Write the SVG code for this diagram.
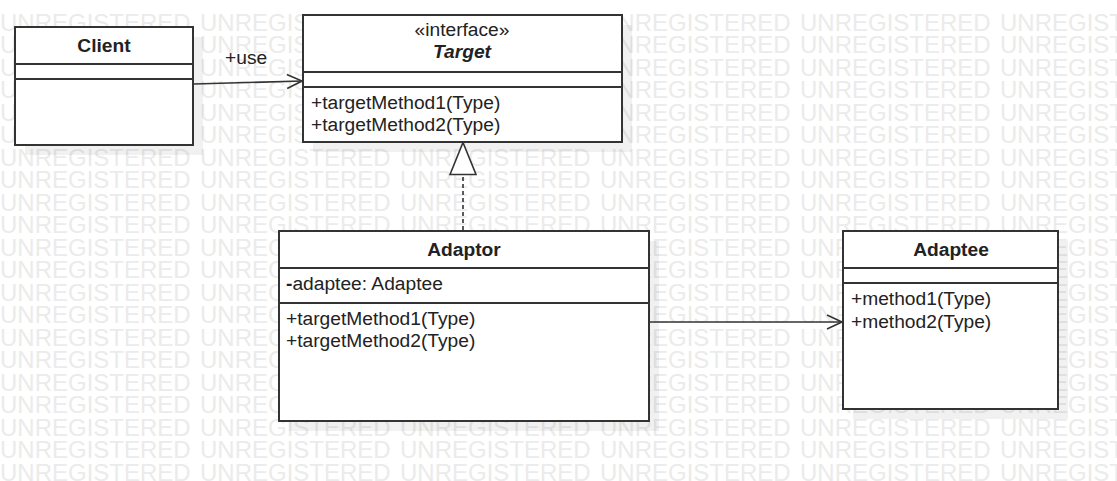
<svg xmlns="http://www.w3.org/2000/svg" xmlns:xlink="http://www.w3.org/1999/xlink" width="1117" height="481" viewBox="0 0 1117 481">
<style>
.wm{font-family:"Liberation Sans",Arial,sans-serif;font-size:24px;fill:#ebebeb}
.box{fill:#fff;stroke:#333;stroke-width:2}
.sh{fill:#000;fill-opacity:0.055;stroke:none}
.sep{stroke:#333;stroke-width:2}
.t{font-family:"Liberation Sans",Arial,sans-serif;font-size:19.2px;fill:#222}
.b{font-weight:bold}
.c{text-anchor:middle}
.ln{fill:none;stroke:#333;stroke-width:1.6}
</style>
<defs>
<g id="wmrow">
<text class="wm" x="0" y="0">UNREGISTERED</text>
<text class="wm" x="200" y="0">UNREGISTERED</text>
<text class="wm" x="400" y="0">UNREGISTERED</text>
<text class="wm" x="600" y="0">UNREGISTERED</text>
<text class="wm" x="800" y="0">UNREGISTERED</text>
<text class="wm" x="1000" y="0">UNREGISTERED</text>
</g>
<marker id="open" viewBox="-17 -9 19 18" refX="0" refY="0" markerWidth="19" markerHeight="18" markerUnits="userSpaceOnUse" orient="auto">
<path d="M-15,-7 L0,0 L-15,7" fill="none" stroke="#333" stroke-width="1.6"/>
</marker>
<marker id="tri" viewBox="-34 -15 36 30" refX="0" refY="0" markerWidth="36" markerHeight="30" markerUnits="userSpaceOnUse" orient="auto">
<path d="M-32,-13 L0,0 L-32,13 Z" fill="#fff" stroke="#333" stroke-width="1.6"/>
</marker>
</defs>
<rect width="1117" height="481" fill="#fff"/>
<g id="watermark">
<use xlink:href="#wmrow" y="30.5"/><use xlink:href="#wmrow" y="53"/><use xlink:href="#wmrow" y="75.5"/>
<use xlink:href="#wmrow" y="98"/><use xlink:href="#wmrow" y="120.5"/><use xlink:href="#wmrow" y="143"/>
<use xlink:href="#wmrow" y="165.5"/><use xlink:href="#wmrow" y="188"/><use xlink:href="#wmrow" y="210.5"/>
<use xlink:href="#wmrow" y="233"/><use xlink:href="#wmrow" y="255.5"/><use xlink:href="#wmrow" y="278"/>
<use xlink:href="#wmrow" y="300.5"/><use xlink:href="#wmrow" y="323"/><use xlink:href="#wmrow" y="345.5"/>
<use xlink:href="#wmrow" y="368"/><use xlink:href="#wmrow" y="390.5"/><use xlink:href="#wmrow" y="413"/>
<use xlink:href="#wmrow" y="435.5"/><use xlink:href="#wmrow" y="458"/><use xlink:href="#wmrow" y="480.5"/>
</g>
<g id="shadows">
<rect class="sh" x="25" y="37" width="178" height="118"/>
<rect class="sh" x="313" y="25" width="319" height="127"/>
<rect class="sh" x="289" y="241" width="370" height="190"/>
<rect class="sh" x="853" y="241" width="215" height="178"/>
</g>
<g id="connectors">
<line class="ln" x1="194" y1="84" x2="302" y2="81" marker-end="url(#open)"/>
<line class="ln" x1="650" y1="322" x2="842" y2="322" marker-end="url(#open)"/>
<line class="ln" x1="463" y1="230" x2="463" y2="142.5" stroke-dasharray="4 3" marker-end="url(#tri)"/>
<text class="t" x="225" y="64">+use</text>
</g>
<g id="client">
<rect class="box" x="15" y="27" width="178" height="118"/>
<line class="sep" x1="15" y1="64" x2="193" y2="64"/>
<line class="sep" x1="15" y1="79" x2="193" y2="79"/>
<text class="t b c" x="104" y="52">Client</text>
</g>
<g id="target">
<rect class="box" x="303" y="15" width="319" height="127"/>
<line class="sep" x1="303" y1="72" x2="622" y2="72"/>
<line class="sep" x1="303" y1="87" x2="622" y2="87"/>
<text class="t c" x="462" y="36">«interface»</text>
<text class="t b c" x="462" y="58" font-style="italic">Target</text>
<text class="t" x="311" y="109">+targetMethod1(Type)</text>
<text class="t" x="311" y="131">+targetMethod2(Type)</text>
</g>
<g id="adaptor">
<rect class="box" x="279" y="231" width="370" height="190"/>
<line class="sep" x1="279" y1="268" x2="649" y2="268"/>
<line class="sep" x1="279" y1="303" x2="649" y2="303"/>
<text class="t b c" x="464" y="256">Adaptor</text>
<text class="t" x="286" y="290"><tspan font-weight="bold">-</tspan>adaptee: Adaptee</text>
<text class="t" x="286" y="325">+targetMethod1(Type)</text>
<text class="t" x="286" y="347">+targetMethod2(Type)</text>
</g>
<g id="adaptee">
<rect class="box" x="843" y="231" width="215" height="178"/>
<line class="sep" x1="843" y1="268" x2="1058" y2="268"/>
<line class="sep" x1="843" y1="283" x2="1058" y2="283"/>
<text class="t b c" x="951" y="256">Adaptee</text>
<text class="t" x="851" y="305">+method1(Type)</text>
<text class="t" x="851" y="328">+method2(Type)</text>
</g>
</svg>
